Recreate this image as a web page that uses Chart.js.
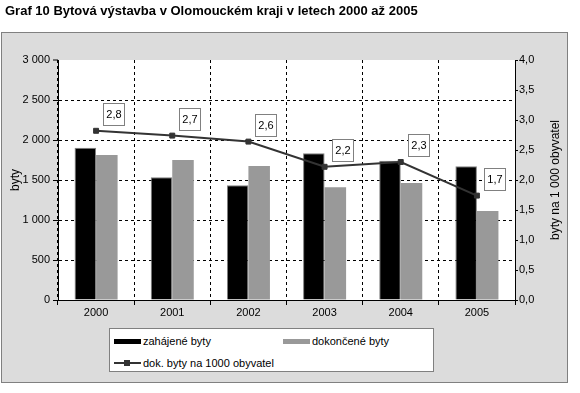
<!DOCTYPE html>
<html>
<head>
<meta charset="utf-8">
<script src="https://cdn.jsdelivr.net/npm/chart.js@4.4.1/dist/chart.umd.min.js"></script>
<style>
  html, body { margin: 0; padding: 0; background: #fff; }
  #wrap { position: relative; width: 580px; height: 393px; }
  #chart { display: block; }
  #legend {
    position: absolute; left: 109px; top: 328px; width: 325px; height: 44px;
    background: #fff; border: 1px solid #808080; box-sizing: border-box;
    font: 11px "Liberation Sans", Arial, sans-serif; color: #000;
  }
  .item { position: absolute; display: flex; align-items: center; white-space: nowrap; }
  .sw { width: 27px; height: 5px; margin-right: 2px; }
  .lsw { position: relative; width: 27px; height: 8px; margin-right: 2px; }
  .lsw .ln { position: absolute; left: 0; right: 0; top: 3px; height: 2px; }
  .lsw .mk { position: absolute; left: 10px; top: 1px; width: 6px; height: 6px; }
</style>
</head>
<body>
<div id="wrap">
  <canvas id="chart" width="580" height="393"></canvas>
  <div id="legend"></div>
</div>
<script>
// Graf 10 - Bytová výstavba v Olomouckém kraji 2000-2005

// ============================================================================
// DATA
// ============================================================================

const years = ['2000', '2001', '2002', '2003', '2004', '2005'];
const startedFlats = [1904, 1533, 1433, 1833, 1742, 1671];     // zahájené byty
const finishedFlats = [1812, 1750, 1675, 1408, 1462, 1112];    // dokončené byty
const finishedPer1000 = [2.82, 2.74, 2.64, 2.22, 2.30, 1.74];  // dok. byty na 1000 obyvatel

const leftTickLabels = ['0', '500', '1 000', '1 500', '2 000', '2 500', '3 000'];
const rightTickLabels = ['0,0', '0,5', '1,0', '1,5', '2,0', '2,5', '3,0', '3,5', '4,0'];

// ============================================================================
// PLUGINS
// ============================================================================

const FONT = '"Liberation Sans", Arial, sans-serif';

const backgroundPlugin = {
  id: 'panelBackground',
  beforeDraw(chart) {
    const { ctx, chartArea } = chart;
    ctx.save();
    ctx.fillStyle = '#ffffff';
    ctx.fillRect(0, 0, chart.width, chart.height);
    ctx.fillStyle = '#dcdcdc';
    ctx.fillRect(1, 32, 567, 351);
    ctx.strokeStyle = '#808080';
    ctx.lineWidth = 1;
    ctx.strokeRect(1.5, 32.5, 566, 350);
    ctx.fillStyle = '#ffffff';
    ctx.fillRect(chartArea.left, chartArea.top, chartArea.right - chartArea.left, chartArea.bottom - chartArea.top);
    ctx.restore();
  }
};

// right axis title reads bottom-to-top in the original
const rightTitlePlugin = {
  id: 'rightTitle',
  afterDraw(chart) {
    const { ctx, chartArea } = chart;
    ctx.save();
    ctx.translate(556, (chartArea.top + chartArea.bottom) / 2);
    ctx.rotate(-Math.PI / 2);
    ctx.font = '12px ' + FONT;
    ctx.fillStyle = '#000';
    ctx.textAlign = 'center';
    ctx.textBaseline = 'middle';
    ctx.fillText('byty na 1 000 obyvatel', 0, 0);
    ctx.restore();
  }
};

const valueBoxPlugin = {
  id: 'valueBoxes',
  afterDatasetsDraw(chart) {
    const { ctx } = chart;
    const meta = chart.getDatasetMeta(0);
    ctx.save();
    ctx.font = '11px ' + FONT;
    ctx.textAlign = 'center';
    ctx.textBaseline = 'middle';
    meta.data.forEach((pt, i) => {
      const bx = Math.round(pt.x) + 7.5;
      const by = Math.round(pt.y) - 27.5;
      ctx.fillStyle = '#fff';
      ctx.fillRect(bx, by, 21, 22);
      ctx.strokeStyle = '#808080';
      ctx.lineWidth = 1;
      ctx.strokeRect(bx, by, 21, 22);
      ctx.fillStyle = '#000';
      ctx.fillText(finishedPer1000[i].toFixed(1).replace('.', ','), bx + 10.5, by + 11.5);
    });
    ctx.restore();
  }
};

// ============================================================================
// CHART
// ============================================================================

Chart.defaults.font.family = FONT;
Chart.defaults.font.size = 11;
Chart.defaults.color = '#000';

const chart = new Chart(document.getElementById('chart'), {
  type: 'bar',
  data: {
    labels: years,
    datasets: [
      {
        type: 'line',
        label: 'dok. byty na 1000 obyvatel',
        data: finishedPer1000,
        yAxisID: 'y1',
        borderColor: '#333333',
        backgroundColor: '#333333',
        borderWidth: 2,
        pointStyle: 'rect',
        pointRadius: 3.5,
        pointBorderWidth: 1,
        tension: 0,
        order: 0
      },
      {
        label: 'zahájené byty',
        data: startedFlats,
        yAxisID: 'y',
        backgroundColor: '#000000',
        borderColor: '#808080',
        borderWidth: 1,
        categoryPercentage: 0.565,
        barPercentage: 1,
        order: 1
      },
      {
        label: 'dokončené byty',
        data: finishedFlats,
        yAxisID: 'y',
        backgroundColor: '#999999',
        borderColor: '#999999',
        borderWidth: 0,
        categoryPercentage: 0.565,
        barPercentage: 1,
        order: 1
      }
    ]
  },
  options: {
    responsive: false,
    animation: false,
    layout: { padding: { left: 5, right: 0, top: 0, bottom: 73 } },
    plugins: {
      legend: { display: false },
      tooltip: { enabled: false },
      title: {
        display: true,
        text: 'Graf 10 Bytová výstavba v Olomouckém kraji v letech 2000 až 2005',
        align: 'start',
        color: '#000',
        font: { size: 13, weight: 'bold', lineHeight: 1.2 },
        padding: { top: 4, bottom: 40.4 }
      }
    },
    scales: {
      x: {
        grid: {
          offset: true,
          color: '#000',
          tickColor: '#000',
          tickLength: 5,
          lineWidth: 1
        },
        border: { display: true, color: '#000', width: 1, dash: [3, 3] },
        ticks: { padding: 1, font: { size: 11 } },
        afterFit: (s) => { s.width = s.width; s.height = 20; }
      },
      y: {
        position: 'left',
        min: 0,
        max: 3000,
        ticks: {
          stepSize: 500,
          padding: 3,
          callback: (v, i) => leftTickLabels[i]
        },
        grid: {
          // no gridline along the top edge of the plot
          lineWidth: (c) => (c.index === leftTickLabels.length - 1 ? 0 : 1),
          color: '#000',
          tickColor: '#000',
          tickWidth: 1,
          tickLength: 5
        },
        border: { display: true, color: '#000', width: 1, dash: [3, 3] },
        title: { display: true, text: 'byty', font: { size: 12 }, padding: { top: 3, bottom: 0 } },
        afterFit: (s) => { s.width = 53; }
      },
      y1: {
        position: 'right',
        min: 0,
        max: 4,
        ticks: {
          stepSize: 0.5,
          padding: 1,
          callback: (v, i) => rightTickLabels[i]
        },
        grid: { drawOnChartArea: false, tickColor: '#000', tickLength: 3 },
        border: { display: true, color: '#000', width: 1 },
        afterFit: (s) => { s.width = 65; }
      }
    }
  },
  plugins: [backgroundPlugin, valueBoxPlugin, rightTitlePlugin]
});

// ============================================================================
// HTML LEGEND (built from the chart's datasets)
// ============================================================================

function buildLegend(chart) {
  const box = document.getElementById('legend');
  const ds = chart.data.datasets;
  const spots = [
    { idx: 1, left: 4, top: 6 },
    { idx: 2, left: 173, top: 6 },
    { idx: 0, left: 4, top: 28 }
  ];
  box.innerHTML = spots.map(s => {
    const d = ds[s.idx];
    const swatch = d.type === 'line'
      ? `<span class="lsw"><span class="ln" style="background:${d.borderColor}"></span><span class="mk" style="background:${d.backgroundColor}"></span></span>`
      : `<span class="sw" style="background:${d.backgroundColor}"></span>`;
    return `<div class="item" style="left:${s.left}px;top:${s.top}px">${swatch}<span>${d.label}</span></div>`;
  }).join('');
}

buildLegend(chart);
</script>
</body>
</html>
